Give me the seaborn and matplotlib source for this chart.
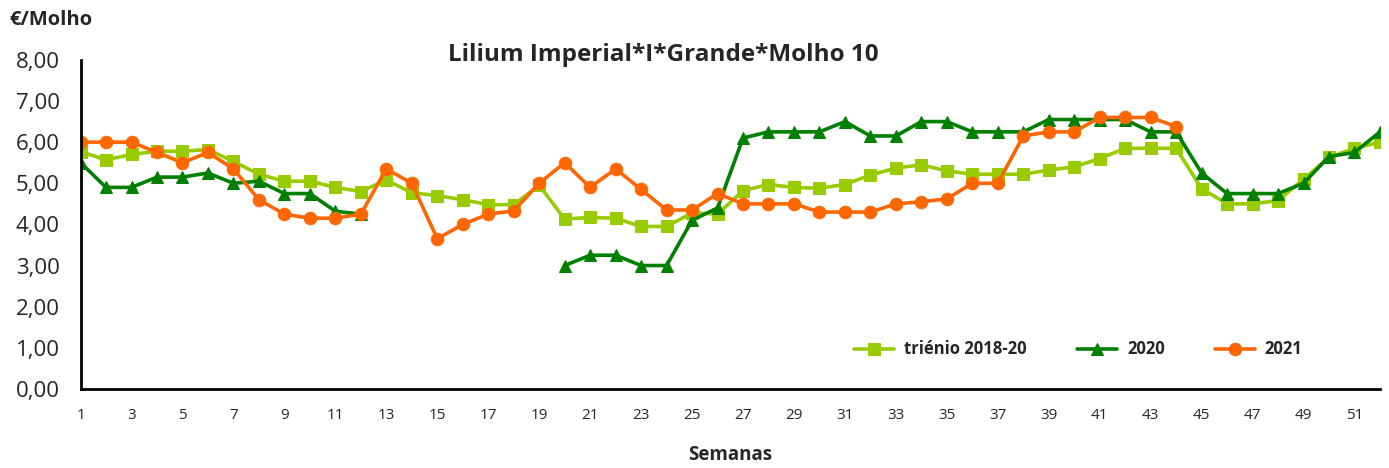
import numpy as np
import pandas as pd
import matplotlib
matplotlib.use('Agg')
import matplotlib.pyplot as plt
from matplotlib.ticker import FuncFormatter
import seaborn as sns

# dados (semanas 1-52)
semanas = list(range(1, 53))

trienio = [5.77, 5.57, 5.70, 5.78, 5.78, 5.82, 5.53, 5.22, 5.05, 5.05,
           4.90, 4.80, 5.08, 4.77, 4.70, 4.60, 4.48, 4.48, 4.95, 4.13,
           4.17, 4.15, 3.95, 3.95, 4.28, 4.25, 4.82, 4.97, 4.90, 4.88,
           4.97, 5.20, 5.37, 5.45, 5.30, 5.22, 5.22, 5.22, 5.32, 5.40,
           5.60, 5.85, 5.85, 5.85, 4.87, 4.50, 4.50, 4.58, 5.10, 5.63,
           5.85, 6.00]

ano_2020 = [5.50, 4.90, 4.90, 5.15, 5.15, 5.25, 5.00, 5.05, 4.75, 4.75,
            4.32, 4.25, np.nan, np.nan, np.nan, np.nan, np.nan, np.nan, np.nan, 3.00,
            3.25, 3.25, 3.00, 3.00, 4.10, 4.40, 6.10, 6.25, 6.25, 6.25,
            6.50, 6.15, 6.15, 6.50, 6.50, 6.25, 6.25, 6.25, 6.55, 6.55,
            6.55, 6.55, 6.25, 6.25, 5.25, 4.75, 4.75, 4.75, 5.00, 5.65,
            5.75, 6.25]

ano_2021 = [6.00, 6.00, 6.00, 5.75, 5.50, 5.75, 5.35, 4.60, 4.25, 4.15,
            4.15, 4.25, 5.35, 5.00, 3.65, 4.00, 4.25, 4.33, 5.00, 5.50,
            4.90, 5.35, 4.85, 4.35, 4.35, 4.75, 4.50, 4.50, 4.50, 4.30,
            4.30, 4.30, 4.50, 4.55, 4.62, 5.00, 5.00, 6.15, 6.25, 6.25,
            6.60, 6.60, 6.60, 6.38, np.nan, np.nan, np.nan, np.nan, np.nan, np.nan,
            np.nan, np.nan]

series = [
    ('triénio 2018-20', trienio, '#99CC00', 's'),
    ('2020', ano_2020, '#008000', '^'),
    ('2021', ano_2021, '#FF6600', 'o'),
]

sns.set_style('white')
plt.rcParams['font.family'] = ['Open Sans', 'DejaVu Sans']

fig = plt.figure(figsize=(13.89, 4.68), dpi=100)
ax = fig.add_axes([0.058, 0.169, 0.9355, 0.703])

for nome, valores, cor, marca in series:
    df = pd.DataFrame({'semana': semanas, 'valor': valores})
    # separar em segmentos contínuos para manter as falhas
    df['seg'] = df['valor'].isna().cumsum()
    df = df.dropna()
    primeiro = True
    for _, parte in df.groupby('seg'):
        sns.lineplot(data=parte, x='semana', y='valor', ax=ax, color=cor,
                     marker=marca, markersize=9, markeredgecolor=cor,
                     linewidth=2.6, label=nome if primeiro else None)
        primeiro = False

ax.set_xlim(1, 52)
ax.set_ylim(0, 8)
ax.set_yticks(np.arange(0, 9, 1))
ax.yaxis.set_major_formatter(FuncFormatter(lambda v, p: f'{v:.2f}'.replace('.', ',')))
ax.set_xticks(semanas)
ax.set_xticklabels([str(s) if s % 2 == 1 else '' for s in semanas])
ax.tick_params(axis='y', direction='in', length=6, width=1.5, labelsize=16, pad=15, color='black')
ax.tick_params(axis='x', direction='in', length=5, width=1.2, labelsize=11, pad=14, color='black')

for s in ['top', 'right']:
    ax.spines[s].set_visible(False)
for s in ['left', 'bottom']:
    ax.spines[s].set_color('black')
    ax.spines[s].set_linewidth(2)

ax.set_xlabel('')
ax.set_ylabel('')
ax.grid(False)

leg = ax.legend(loc='center', bbox_to_anchor=(0.768, 0.12), ncol=3, frameon=False,
                fontsize=12, handlelength=2.4, columnspacing=3.0, handletextpad=0.6)
for t in leg.get_texts():
    t.set_fontweight('bold')

fig.text(663 / 1389, 1 - 55 / 468, 'Lilium Imperial*I*Grande*Molho 10',
         ha='center', va='center', fontsize=17.5, fontweight='bold')
fig.text(0.007, 1 - 20 / 468, '€/Molho', ha='left', va='center',
         fontsize=14.5, fontweight='bold')
fig.text(730 / 1389, 1 - 455 / 468, 'Semanas', ha='center', va='center',
         fontsize=13.5, fontweight='bold')

fig.savefig('out.png', dpi=100)
